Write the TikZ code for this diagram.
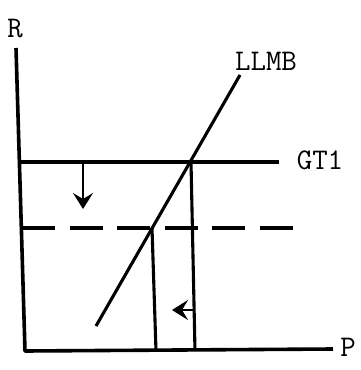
\documentclass[tikz,border=0pt]{standalone}
\usepackage{tikz}
\usetikzlibrary{
  arrows.meta
}
\tikzset{
  axisline/.style={
    line width=3.6pt,
    line join=round,
  },
  curveline/.style={
    line width=3.1pt,
  },
  levelline/.style={
    line width=3.1pt,
  },
  newlevel/.style={
    line width=3.1pt,
    dash pattern=on 33pt off 14.6pt,
  },
  shiftarr/.style={
    -{Stealth[length=16pt,width=20pt,inset=6pt]},
    line width=2.8pt,
  },
  axislabel/.style={
    font=\ttfamily\fontsize{30}{30}\selectfont,
    inner sep=0pt,
  },
}

\begin{document}
\begin{tikzpicture}[
  x=1pt, y=-1pt,
]
  \useasboundingbox (0,0) rectangle (361,370);

  % --- Axes ---
  \coordinate (ytop)   at (16,48);
  \coordinate (origin) at (25,351);
  \coordinate (xend)   at (333,349);
  \node[axislabel] (rlab) at (15,29)  {R};
  \node[axislabel] (plab) at (348,347) {P};
  \draw[axisline] (ytop) -- (origin) -- (xend);

  % --- GT1 level and LLMB curve ---
  \coordinate (gtleft)  at (20,162);
  \coordinate (gtright) at (279,162);
  \node[axislabel] (gtlab) at (320,160) {GT1};
  \draw[levelline] (gtleft) -- (gtright);

  \coordinate (mblow)  at (96,326);
  \coordinate (mbhigh) at (240,75);
  \node[axislabel] (mblab) at (266,61) {LLMB};
  \draw[curveline] (mblow) -- (mbhigh);

  % --- lowered level (dashed) ---
  \coordinate (dashleft)  at (22,228);
  \coordinate (dashright) at (293,228);
  \draw[newlevel] (dashleft) -- (dashright);

  % --- drop lines to P axis ---
  \coordinate (eqold)  at (191,162);
  \coordinate (eqnew)  at (152,228);
  \coordinate (pold)   at (195,351);
  \coordinate (pnew)   at (156,351);
  \draw[curveline] (eqold) -- (pold);
  \draw[curveline] (eqnew) -- (pnew);

  % --- shifts ---
  \coordinate (downfrom) at (83,162);
  \coordinate (downto)   at (83,209);
  \draw[shiftarr] (downfrom) -- (downto);
  \coordinate (leftfrom) at (194,310);
  \coordinate (leftto)   at (172,310);
  \draw[shiftarr] (leftfrom) -- (leftto);
\end{tikzpicture}
\end{document}
